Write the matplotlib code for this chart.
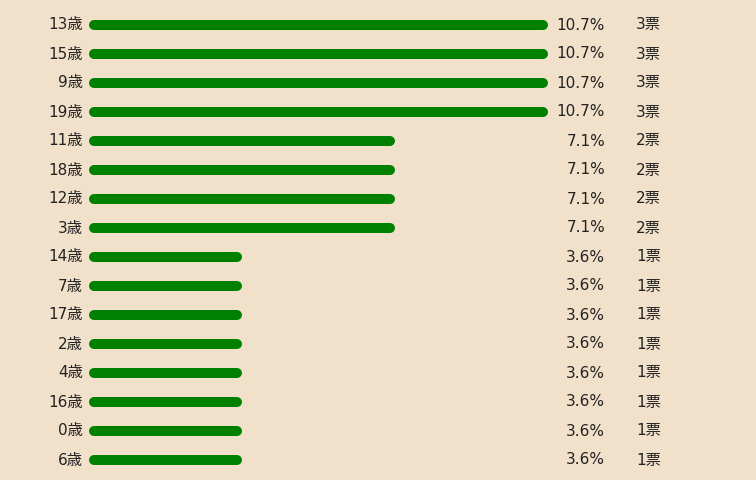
import matplotlib
matplotlib.use("Agg")
import matplotlib.pyplot as plt

plt.rcParams['font.family'] = ['DejaVu Sans', 'Noto Sans CJK JP']

labels = ['13歳', '15歳', '9歳', '19歳', '11歳', '18歳', '12歳', '3歳',
          '14歳', '7歳', '17歳', '2歳', '4歳', '16歳', '0歳', '6歳']
votes = [3, 3, 3, 3, 2, 2, 2, 2, 1, 1, 1, 1, 1, 1, 1, 1]
pcts = ['10.7%', '10.7%', '10.7%', '10.7%', '7.1%', '7.1%', '7.1%', '7.1%',
        '3.6%', '3.6%', '3.6%', '3.6%', '3.6%', '3.6%', '3.6%', '3.6%']

bg = '#f1e0ca'
fig = plt.figure(figsize=(7.56, 4.8), dpi=100, facecolor=bg)
ax = fig.add_axes([0, 0, 1, 1])
ax.set_facecolor(bg)
ax.set_xlim(0, 756)
ax.set_ylim(480, 0)
ax.axis('off')

x0 = 89
unit = 153     # pixels per vote
lw = 10        # bar thickness in px
for i, (lab, v, p) in enumerate(zip(labels, votes, pcts)):
    y = 25 + i * 29
    ax.plot([x0 + lw / 2, x0 + v * unit - lw / 2], [y, y], color='#008000',
            lw=lw * 0.72, solid_capstyle='round')
    ax.text(83, y, lab, ha='right', va='center', fontsize=11, color='#222222')
    ax.text(605, y, p, ha='right', va='center', fontsize=11, color='#222222')
    ax.text(636, y, f'{v}票', ha='left', va='center', fontsize=11, color='#222222')

fig.savefig('out.png', dpi=100, facecolor=bg)
